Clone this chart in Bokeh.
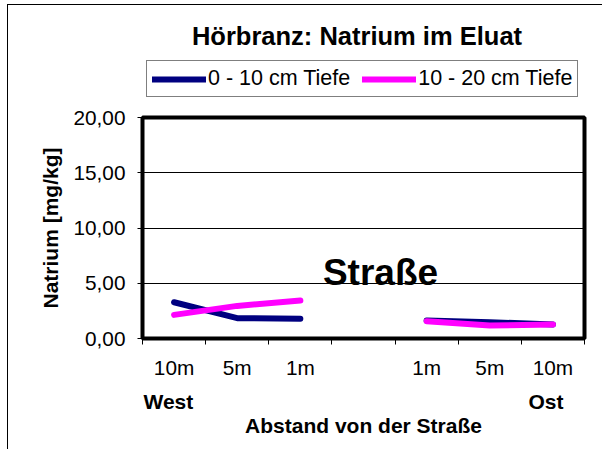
import math
from bokeh.plotting import figure
from bokeh.layouts import column
from bokeh.models import (Range1d, FixedTicker, Label, Legend, LegendItem, LinearAxis)
from bokeh.embed import file_html
from bokeh.resources import INLINE

# ---------------- data ----------------
title_text = "Hörbranz: Natrium im Eluat"
categories = ["10m", "5m", "1m", "", "1m", "5m", "10m"]
depth_0_10 = [3.28, 1.84, 1.78, math.nan, 1.62, 1.48, 1.27]
depth_10_20 = [2.14, 2.95, 3.43, math.nan, 1.57, 1.18, 1.27]
series_names = ["0 - 10 cm Tiefe", "10 - 20 cm Tiefe"]
y_ticks = [0, 5, 10, 15, 20]
y_tick_labels = ["0,00", "5,00", "10,00", "15,00", "20,00"]
side_labels = ["West", "Ost"]
road_label = "Straße"
x_title = "Abstand von der Straße"
y_title = "Natrium [mg/kg]"

# ---------------- layout ----------------
FONT = "Liberation Sans"
W = 594
BORDER_L, BORDER_R = 134, 18
FW = W - BORDER_L - BORDER_R
TOP_H = 96
MAIN_H = 348
n = len(categories)
x_centers = [i + 0.5 for i in range(n)]
colors = ["#000080", "#FF00FF"]
series = [depth_0_10, depth_10_20]

# ---- main chart ----
p = figure(width=W, height=MAIN_H, output_backend="svg", toolbar_location=None,
           x_range=Range1d(0, n), y_range=Range1d(0, 20),
           min_border_left=BORDER_L, min_border_right=BORDER_R,
           min_border_top=16, min_border_bottom=111,
           background_fill_color="white", border_fill_color="white")
p.title_location = None
p.outline_line_color = "black"
p.outline_line_width = 4

# y axis
p.yaxis.ticker = FixedTicker(ticks=y_ticks, minor_ticks=[])
p.yaxis.major_label_overrides = {t: l for t, l in zip(y_ticks, y_tick_labels)}
p.yaxis.major_label_text_font = FONT
p.yaxis.major_label_text_font_size = "20.8px"
p.yaxis.major_label_text_color = "black"
p.yaxis.major_tick_out = 5
p.yaxis.major_tick_in = 0
p.yaxis.major_tick_line_color = "black"
p.yaxis.major_label_standoff = 12
p.yaxis.axis_line_color = "black"
p.yaxis.axis_label = y_title
p.yaxis.axis_label_text_font = FONT
p.yaxis.axis_label_text_font_size = "21px"
p.yaxis.axis_label_text_font_style = "bold"
p.yaxis.axis_label_text_color = "black"
p.yaxis.axis_label_standoff = 8

# x axis: labels at category centres, tick marks at category boundaries
label_ticks = [x for x, c in zip(x_centers, categories) if c]
p.xaxis.ticker = FixedTicker(ticks=label_ticks, minor_ticks=list(range(n + 1)))
p.xaxis.major_label_overrides = {x: c for x, c in zip(x_centers, categories) if c}
p.xaxis.major_label_text_font = FONT
p.xaxis.major_label_text_font_size = "20.8px"
p.xaxis.major_label_text_color = "black"
p.xaxis.major_tick_line_color = None
p.xaxis.major_tick_out = 0
p.xaxis.major_tick_in = 0
p.xaxis.minor_tick_line_color = "black"
p.xaxis.minor_tick_out = 6
p.xaxis.minor_tick_in = 0
p.xaxis.major_label_standoff = 11
p.xaxis.axis_line_color = "black"

# second x axis: West / Ost and the axis title
side_pos = [x_centers[0] - 0.09, x_centers[-1] - 0.11]
side_axis = LinearAxis(ticker=FixedTicker(ticks=side_pos, minor_ticks=[]),
                       major_label_overrides={x: s for x, s in zip(side_pos, side_labels)},
                       major_label_text_font=FONT, major_label_text_font_size="21px",
                       major_label_text_font_style="bold", major_label_text_color="black",
                       major_tick_line_color=None, major_tick_out=0, major_tick_in=0,
                       minor_tick_line_color=None, axis_line_color=None,
                       major_label_standoff=8,
                       axis_label=x_title, axis_label_text_font=FONT,
                       axis_label_text_font_size="21px", axis_label_text_font_style="bold",
                       axis_label_text_color="black", axis_label_standoff=-2)
p.add_layout(side_axis, "below")

# grid
p.xgrid.grid_line_color = None
p.ygrid.ticker = FixedTicker(ticks=y_ticks[1:-1])
p.ygrid.grid_line_color = "black"
p.ygrid.grid_line_width = 1

# series
for vals, col in zip(series, colors):
    p.line(x_centers, vals, line_color=col, line_width=6,
           line_cap="round", line_join="round")

# road label inside the plot area
p.add_layout(Label(x=x_centers[3], y=5, x_offset=17, y_offset=11, text=road_label,
                   text_align="center", text_baseline="middle",
                   text_font=FONT, text_font_size="37px",
                   text_font_style="bold", text_color="black"))

# ---- header: title + legend (frame aligned with the chart frame) ----
top = figure(width=W, height=TOP_H, output_backend="svg", toolbar_location=None,
             x_range=Range1d(0, FW), y_range=Range1d(0, TOP_H),
             x_axis_location=None, y_axis_location=None,
             min_border_left=BORDER_L, min_border_right=BORDER_R,
             min_border_top=0, min_border_bottom=0,
             background_fill_color="white", border_fill_color="white")
top.title_location = None
top.outline_line_color = None
top.grid.grid_line_color = None

legend_renderers = []
for vals, col in zip(series, colors):
    r = top.line(x_centers, vals, line_color=col, line_width=6,
                 line_cap="round", line_join="round")
    r.visible = False
    legend_renderers.append(r)

legend = Legend(items=[LegendItem(label=name, renderers=[r])
                       for name, r in zip(series_names, legend_renderers)],
                orientation="horizontal", location=(4, 4),
                label_text_font=FONT, label_text_font_size="21.5px",
                label_text_color="black",
                glyph_width=54, glyph_height=24, label_height=24,
                label_standoff=2, spacing=12, padding=5, margin=0,
                border_line_color="black", border_line_width=1,
                background_fill_color="white", background_fill_alpha=1,
                inactive_fill_alpha=0)
top.add_layout(legend, "center")

top.add_layout(Label(x=214.5, y=66, text=title_text,
                     text_align="center", text_baseline="middle",
                     text_font=FONT, text_font_size="25.5px",
                     text_font_style="bold", text_color="black"))

layout = column(top, p, spacing=0,
                styles={"margin-left": "7px", "margin-top": "4px",
                        "border-left": "1px solid black", "border-top": "1px solid black"})

open("out.html", "w").write(file_html(layout, INLINE))
